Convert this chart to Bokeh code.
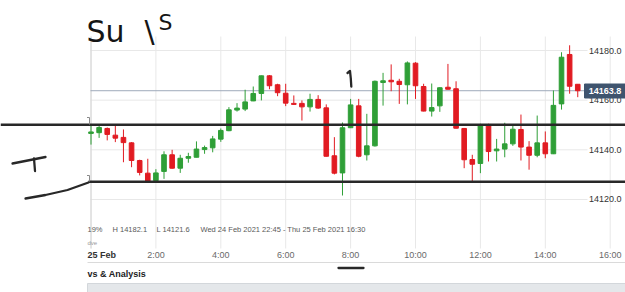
import numpy as np
import pandas as pd
from bokeh.plotting import figure
from bokeh.models import ColumnDataSource, Range1d
from bokeh.core.properties import value
from bokeh.embed import file_html
from bokeh.resources import INLINE

# ---------------- data ----------------
start_time = "2021-02-25 00:00"
bar_minutes = 15

opens = [14146.6, 14146.9, 14148.6, 14145.9, 14145.0, 14142.8, 14135.7, 14130.6, 14127.6, 14131.3,
         14138.0, 14132.6, 14136.6, 14137.0, 14140.1, 14140.8, 14144.3, 14147.7, 14156.0, 14156.4,
         14159.7, 14162.7, 14169.8, 14166.2, 14162.8, 14158.7, 14158.7, 14157.3, 14160.3, 14156.9,
         14137.6, 14130.7, 14148.9, 14157.7, 14138.0, 14141.6, 14167.1, 14168.0, 14167.6, 14166.2,
         14174.9, 14165.5, 14155.6, 14157.7, 14165.2, 14164.6, 14148.6, 14136.1, 14134.5, 14150.2,
         14139.6, 14140.3, 14142.4, 14148.2, 14141.1, 14137.8, 14142.8, 14138.4, 14158.5, 14178.4,
         14166.4]
highs = [14149.8, 14150.1, 14149.0, 14150.1, 14148.2, 14143.1, 14136.0, 14136.4, 14132.2, 14139.4,
         14140.0, 14138.0, 14138.8, 14143.4, 14141.7, 14145.6, 14148.6, 14157.2, 14158.8, 14164.2,
         14165.5, 14169.9, 14170.1, 14166.6, 14166.6, 14161.9, 14159.9, 14162.6, 14162.0, 14158.3,
         14145.1, 14151.0, 14160.5, 14160.5, 14154.5, 14167.9, 14171.0, 14174.4, 14168.6, 14175.6,
         14175.3, 14166.6, 14166.7, 14165.2, 14174.6, 14167.6, 14148.8, 14138.0, 14150.5, 14150.5,
         14144.4, 14150.9, 14149.8, 14154.2, 14143.5, 14153.8, 14147.4, 14163.9, 14179.3, 14182.1,
         14166.4]
lows = [14142.1, 14144.8, 14143.8, 14143.1, 14135.0, 14133.0, 14129.7, 14127.0, 14127.2, 14128.3,
        14132.4, 14130.7, 14134.8, 14137.0, 14138.4, 14139.0, 14143.2, 14147.5, 14155.4, 14155.6,
        14159.6, 14159.9, 14164.4, 14161.6, 14157.6, 14158.1, 14151.8, 14155.4, 14156.5, 14137.3,
        14130.1, 14121.6, 14148.8, 14137.0, 14135.7, 14141.3, 14157.8, 14163.6, 14158.5, 14158.3,
        14160.5, 14155.5, 14153.4, 14155.3, 14164.3, 14148.6, 14132.6, 14127.2, 14130.6, 14135.3,
        14135.3, 14137.0, 14141.6, 14135.7, 14132.0, 14137.0, 14136.6, 14138.3, 14156.2, 14162.6,
        14161.2]
closes = [14147.2, 14149.0, 14146.2, 14144.7, 14142.9, 14135.7, 14130.9, 14127.2, 14130.7, 14138.0,
          14132.6, 14136.6, 14137.3, 14140.3, 14140.9, 14144.4, 14147.8, 14156.1, 14156.8, 14159.3,
          14162.7, 14169.8, 14165.8, 14163.0, 14158.8, 14158.3, 14157.3, 14160.3, 14156.8, 14137.4,
          14130.6, 14148.9, 14158.1, 14137.4, 14141.6, 14167.6, 14167.8, 14167.4, 14166.3, 14175.0,
          14165.8, 14155.6, 14157.0, 14165.0, 14164.4, 14148.7, 14136.0, 14134.2, 14150.2, 14139.3,
          14140.3, 14142.4, 14148.3, 14141.1, 14137.8, 14142.8, 14138.4, 14157.9, 14177.3, 14165.6,
          14163.8]

x_tick_hours = [2, 4, 6, 8, 10, 12, 14, 16]
x_tick_labels = ["2:00", "4:00", "6:00", "8:00", "10:00", "12:00", "14:00", "16:00"]
date_label = "25 Feb"
y_ticks = [14120.0, 14140.0, 14160.0, 14180.0]
y_tick_labels = ["14120.0", "14140.0", "14160.0", "14180.0"]
drawn_levels = [14150.1, 14127.1]      # hand-drawn horizontal lines
change_text = "19%"
range_text = "Wed 24 Feb 2021 22:45 - Thu 25 Feb 2021 16:30"
section_text = "vs & Analysis"
small_text = "dve"
hand_texts = ["Su", "\\", "S"]

# ---------------- layout (pixels) ----------------
W, H = 625, 292
X0_PX, PX_PER_HOUR = 90.5, 32.45
Y_REF_PX, Y_REF_PRICE, PX_PER_POINT = 50.0, 14180.0, 2.483


def hx(px):
    return (px - X0_PX) / PX_PER_HOUR


def vy(py):
    return Y_REF_PRICE - (py - Y_REF_PX) / PX_PER_POINT


FONT = value("Liberation Sans")
UP, DOWN = "#2f9f37", "#e11b22"

times = pd.date_range(start_time, periods=len(opens), freq=f"{bar_minutes}min")
hours = (times - times[0]).total_seconds() / 3600.0

o = np.array(opens); c = np.array(closes)
src = ColumnDataSource(dict(
    x=hours, high=highs, low=lows,
    top=np.maximum(o, c), bottom=np.minimum(o, c),
    color=[UP if cc >= oo else DOWN for oo, cc in zip(opens, closes)],
))

p = figure(width=W, height=H, x_range=Range1d(hx(0), hx(W)), y_range=Range1d(vy(H), vy(0)),
           output_backend="svg", toolbar_location=None, x_axis_location=None,
           y_axis_location=None, min_border=0, title=None)
p.grid.visible = False
p.outline_line_color = None
p.background_fill_color = "white"
p.border_fill_color = "white"

# bottom panel pieces
p.quad(left=[hx(87)], right=[hx(W + 2)], top=[vy(283)], bottom=[vy(H + 2)],
       fill_color="#e4e7ea", line_color="#d3d7db", line_width=1)
p.segment(x0=[hx(87)], x1=[hx(W)], y0=[vy(262)], y1=[vy(262)], line_color="#dadada", line_width=1)

# grid
gx = [0] + x_tick_hours
p.segment(x0=gx, x1=gx, y0=[vy(36)] * len(gx), y1=[vy(248)] * len(gx),
          line_color="#e8e8e8", line_width=1)
p.segment(x0=[hx(90)] * len(y_ticks), x1=[hx(587)] * len(y_ticks), y0=y_ticks, y1=y_ticks,
          line_color="#e8e8e8", line_width=1)
p.segment(x0=[0], x1=[0], y0=[vy(36)], y1=[vy(248)], line_color="#d4d4d4", line_width=1)

# last price line
last = closes[-1]
p.segment(x0=[hx(90)], x1=[hx(584)], y0=[last], y1=[last], line_color="#9ea9ba", line_width=1)

# candles
bar_w = 4.6 / PX_PER_HOUR
p.segment(x0="x", x1="x", y0="high", y1="low", line_color="color", line_width=1, source=src)
p.vbar(x="x", width=bar_w, top="top", bottom="bottom", fill_color="color",
       line_color="color", line_width=1, source=src)

# hand-drawn horizontal lines
INK = "#282828"
p.segment(x0=[hx(0), hx(88)], x1=[hx(W), hx(W)], y0=drawn_levels, y1=drawn_levels,
          line_color=INK, line_width=2.5)
strokes_px = [
    [(25, 198), (45, 194.5), (67, 189.5), (88, 182)],
    [(12, 163), (45, 156.5)],
    [(33.5, 158), (34.5, 170.5)],
    [(347, 72.5), (349.5, 70.5), (350.3, 78), (350.8, 86)],
    [(338, 267.5), (363, 267.5)],
]
p.multi_line(xs=[[hx(a) for a, b in s] for s in strokes_px],
             ys=[[vy(b) for a, b in s] for s in strokes_px],
             line_color=INK, line_width=2.3, line_cap="round", line_join="round")
brackets_px = [
    [(86.5, 117), (89, 117), (89, 124)],
    [(86.5, 175), (89, 175), (89, 181)],
]
p.multi_line(xs=[[hx(a) for a, b in s] for s in brackets_px],
             ys=[[vy(b) for a, b in s] for s in brackets_px],
             line_color="#8a8a8a", line_width=1)

# handwriting
p.text(x=[hx(86), hx(144)], y=[vy(31), vy(31)], text=hand_texts[:2],
       text_font=value("DejaVu Sans"), text_font_size="30px", text_color="#151515",
       text_baseline="alphabetic", text_align="left")
p.text(x=[hx(158)], y=[vy(22)], text=hand_texts[2:],
       text_font=value("DejaVu Sans"), text_font_size="22px", text_color="#151515",
       text_baseline="alphabetic", text_align="left")

# x tick labels
p.text(x=x_tick_hours, y=[vy(254.5)] * len(x_tick_hours), text=x_tick_labels,
       text_font=FONT, text_font_size="9px", text_color="#6a6a6a",
       text_align="center", text_baseline="middle")
p.text(x=[hx(87)], y=[vy(254.5)], text=[date_label], text_font=FONT, text_font_size="9px",
       text_font_style="bold", text_color="#333333", text_align="left", text_baseline="middle")

# price labels
p.text(x=[hx(621)] * len(y_ticks), y=y_ticks, text=y_tick_labels, text_font=FONT,
       text_font_size="9px", text_color="#333333", text_align="right", text_baseline="middle")

# last price box
p.quad(left=[hx(584)], right=[hx(W + 1)], top=[vy(83.5)], bottom=[vy(97.5)],
       fill_color="#3f546e", line_color="#3f546e")
p.text(x=[hx(604.5)], y=[last], text=[f"{last:.1f}"], text_font=FONT, text_font_size="9px",
       text_font_style="bold", text_color="white", text_align="center", text_baseline="middle")

# info row
info = [change_text, f"H {max(highs):.1f}", f"L {min(lows):.1f}", range_text]
p.text(x=[hx(87), hx(112), hx(156), hx(200)], y=[vy(229)] * 4, text=info, text_font=FONT,
       text_font_size="7.5px", text_color="#5a5a5a", text_align="left", text_baseline="middle")
p.text(x=[hx(87)], y=[vy(242)], text=[small_text], text_font=FONT, text_font_size="6px",
       text_color="#9a9a9a", text_align="left", text_baseline="middle")

# section heading
p.text(x=[hx(87)], y=[vy(273)], text=[section_text], text_font=FONT, text_font_size="9px",
       text_font_style="bold", text_color="#222222", text_align="left", text_baseline="middle")

open("out.html", "w").write(file_html(p, INLINE))
